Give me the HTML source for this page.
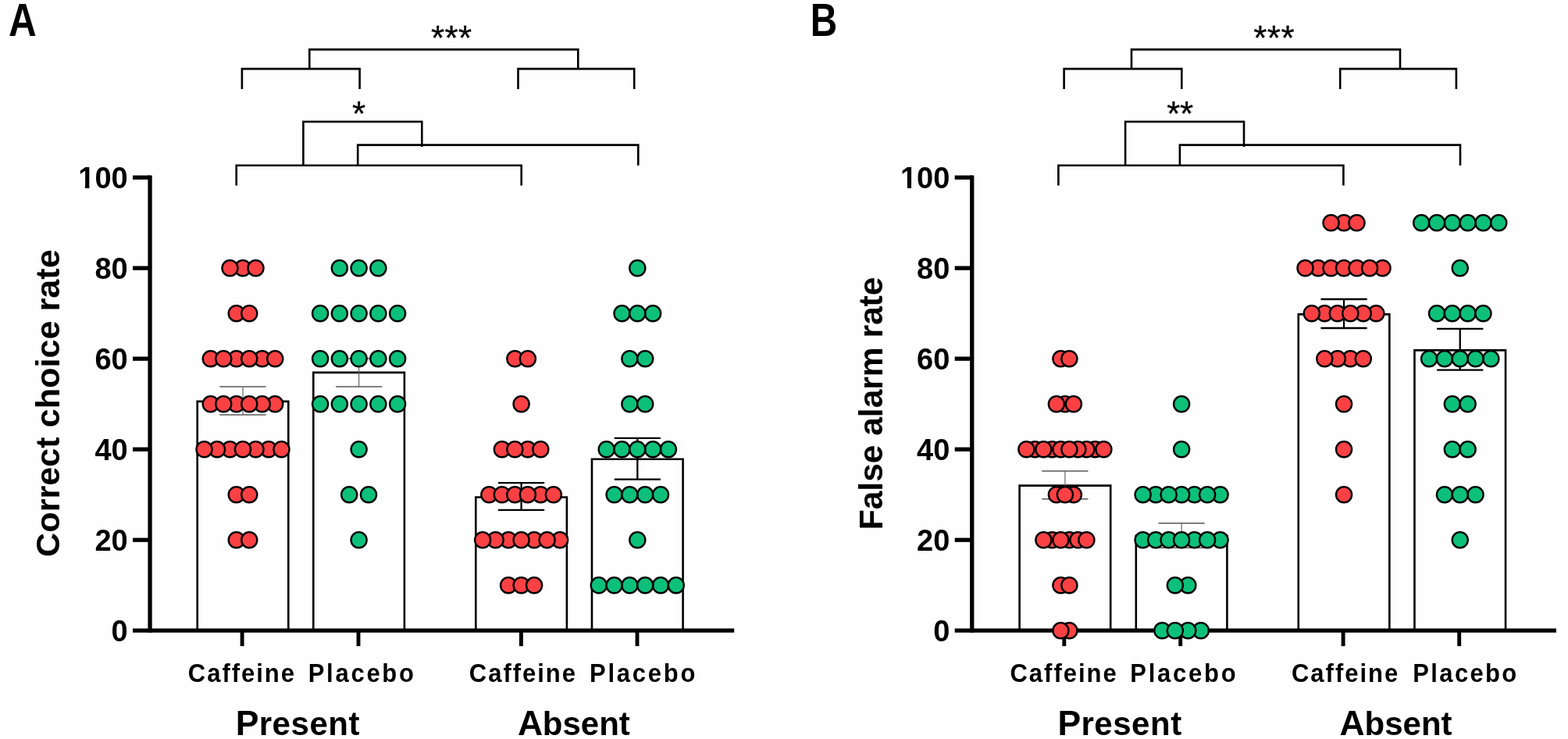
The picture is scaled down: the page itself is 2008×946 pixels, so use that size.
<!DOCTYPE html>
<html lang="en"><head><meta charset="utf-8"><title>Figure</title>
<style>
html,body{margin:0;padding:0;background:#fefefe;}
body{width:2008px;height:946px;overflow:hidden;}
svg{display:block;}
text{font-family:"Liberation Sans",sans-serif;fill:#000;}
.tk{font-weight:bold;font-size:38px;text-anchor:end;}
.xl{font-weight:bold;font-size:31px;text-anchor:middle;}
.gl{font-weight:bold;font-size:42px;}
.yt{font-weight:bold;font-size:43.2px;text-anchor:middle;}
.pl{font-weight:bold;font-size:60px;}
.st{font-size:44px;text-anchor:middle;stroke:#000;stroke-width:0.3;stroke-linejoin:round;letter-spacing:0.45px;}
.ax{stroke:#000;stroke-width:5.3;fill:none;stroke-linecap:butt;}
.bar{stroke:#000;stroke-width:2.6;fill:none;stroke-linejoin:miter;}
.br{stroke:#000;stroke-width:2.6;fill:none;stroke-linejoin:miter;}
.e1{stroke:#585858;stroke-width:1.5;fill:none;}
.e1v{stroke:#666;stroke-width:1.2;fill:none;}
.e2{stroke:#000;stroke-width:2.3;fill:none;}
.d{stroke:#000;stroke-width:2.4;}
</style></head><body>
<svg width="2008" height="946" viewBox="0 0 2008 946">
<rect x="0" y="0" width="2008" height="946" fill="#fefefe"/>
<g transform="translate(0,0)">
<text class="pl" transform="translate(10.9,46.3) scale(0.825,1)">A</text>
<path class="br" d="M309.9,113.9V88.1H460.6V113.9"/>
<path class="br" d="M663.5,113.9V88.1H812.2V113.9"/>
<path class="br" d="M396.3,88.1V63.4H740.3V88.1"/>
<path class="br" d="M388.4,211.7V155.8H540.3V188.1"/>
<path class="br" d="M458.2,211.7V185.6H817.3V211.7"/>
<path class="br" d="M302.7,237.4V211.8H667.7V237.4"/>
<text class="st" x="459.7" y="160.7">*</text>
<text class="st" x="578.3" y="64.3">***</text>
<path class="ax" d="M192.05,224.5V809.85"/>
<path class="ax" d="M170,807.2H940.2"/>
<text class="tk" x="163.7" y="820.8">0</text>
<path class="ax" d="M170,691.2H192"/>
<text class="tk" x="163.7" y="704.8">20</text>
<path class="ax" d="M170,575.2H192"/>
<text class="tk" x="163.7" y="588.8">40</text>
<path class="ax" d="M170,459.2H192"/>
<text class="tk" x="163.7" y="472.8">60</text>
<path class="ax" d="M170,343.2H192"/>
<text class="tk" x="163.7" y="356.8">80</text>
<path class="ax" d="M170,227.2H192"/>
<text class="tk" x="163.7" y="240.8">100</text>
<rect x="100.5" y="236.4" width="8.5" height="5.4" fill="#fefefe"/>
<rect x="114.4" y="236.4" width="8" height="5.4" fill="#fefefe"/>
<path class="ax" style="stroke-width:4.9" d="M310.1,808V827.1"/>
<path class="ax" style="stroke-width:4.9" d="M459,808V827.1"/>
<path class="ax" style="stroke-width:4.9" d="M667.4,808V827.1"/>
<path class="ax" style="stroke-width:4.9" d="M816,808V827.1"/>
<text class="yt" transform="translate(75.9,516.1) rotate(-90)">Correct choice rate</text>
<text class="xl" transform="translate(309.9,872.8) scale(1,1.07)" letter-spacing="2.0">Caffeine</text>
<text class="xl" transform="translate(463.68,872.8) scale(1,1.07)" letter-spacing="2.75">Placebo</text>
<text class="xl" transform="translate(669.9,872.8) scale(1,1.07)" letter-spacing="2.0">Caffeine</text>
<text class="xl" transform="translate(824.08,872.8) scale(1,1.07)" letter-spacing="2.75">Placebo</text>
<text class="gl" x="301.8" y="940.9"><tspan font-size="44.5">P</tspan><tspan dx="0.2" letter-spacing="0.55">resent</tspan></text>
<text class="gl" x="662.9" y="940.9"><tspan font-size="44.5">A</tspan><tspan dx="-0.2">bsent</tspan></text>
<path class="bar" d="M252.7,807.2V513.9H369.3V807.2"/>
<path class="bar" d="M401.3,807.2V476.9H517.9V807.2"/>
<path class="bar" d="M609.3,807.2V636.5H725.9V807.2"/>
<path class="bar" d="M758,807.2V587.8H874.6V807.2"/>
<path class="e1" d="M281.4,495H340.6M281.4,531H340.6"/>
<path class="e1v" d="M311,495V531"/>
<path class="e1" d="M430,459H489.2M430,495.1H489.2"/>
<path class="e1v" d="M459.6,459V495.1"/>
<path class="e2" d="M638,618.1H697.2M638,652.9H697.2"/>
<path class="e2" d="M667.6,618.1V652.9"/>
<path class="e2" d="M786.7,560.9H845.9M786.7,613.6H845.9"/>
<path class="e2" d="M816.3,560.9V613.6"/>
<g class="d" fill="#f94144">
<circle cx="311" cy="343.2" r="10.05"/>
<circle cx="294.5" cy="343.2" r="10.05"/>
<circle cx="327.5" cy="343.2" r="10.05"/>
<circle cx="302.75" cy="401.2" r="10.05"/>
<circle cx="319.25" cy="401.2" r="10.05"/>
<circle cx="269.75" cy="459.2" r="10.05"/>
<circle cx="302.75" cy="459.2" r="10.05"/>
<circle cx="335.75" cy="459.2" r="10.05"/>
<circle cx="286.25" cy="459.2" r="10.05"/>
<circle cx="319.25" cy="459.2" r="10.05"/>
<circle cx="352.25" cy="459.2" r="10.05"/>
<circle cx="269.75" cy="517.2" r="10.05"/>
<circle cx="302.75" cy="517.2" r="10.05"/>
<circle cx="352.25" cy="517.2" r="10.05"/>
<circle cx="335.75" cy="517.2" r="10.05"/>
<circle cx="286.25" cy="517.2" r="10.05"/>
<circle cx="319.25" cy="517.2" r="10.05"/>
<circle cx="294.5" cy="575.2" r="10.05"/>
<circle cx="344" cy="575.2" r="10.05"/>
<circle cx="278" cy="575.2" r="10.05"/>
<circle cx="327.5" cy="575.2" r="10.05"/>
<circle cx="261.5" cy="575.2" r="10.05"/>
<circle cx="311" cy="575.2" r="10.05"/>
<circle cx="360.5" cy="575.2" r="10.05"/>
<circle cx="302.75" cy="633.2" r="10.05"/>
<circle cx="319.25" cy="633.2" r="10.05"/>
<circle cx="302.75" cy="691.2" r="10.05"/>
<circle cx="319.25" cy="691.2" r="10.05"/>
</g>
<g class="d" fill="#0cc07a">
<circle cx="434.85" cy="343.2" r="10.05"/>
<circle cx="459.6" cy="343.2" r="10.05"/>
<circle cx="484.35" cy="343.2" r="10.05"/>
<circle cx="410.1" cy="401.2" r="10.05"/>
<circle cx="434.85" cy="401.2" r="10.05"/>
<circle cx="459.6" cy="401.2" r="10.05"/>
<circle cx="484.35" cy="401.2" r="10.05"/>
<circle cx="509.1" cy="401.2" r="10.05"/>
<circle cx="410.1" cy="459.2" r="10.05"/>
<circle cx="434.85" cy="459.2" r="10.05"/>
<circle cx="459.6" cy="459.2" r="10.05"/>
<circle cx="484.35" cy="459.2" r="10.05"/>
<circle cx="509.1" cy="459.2" r="10.05"/>
<circle cx="410.1" cy="517.2" r="10.05"/>
<circle cx="434.85" cy="517.2" r="10.05"/>
<circle cx="459.6" cy="517.2" r="10.05"/>
<circle cx="484.35" cy="517.2" r="10.05"/>
<circle cx="509.1" cy="517.2" r="10.05"/>
<circle cx="459.6" cy="575.2" r="10.05"/>
<circle cx="447.23" cy="633.2" r="10.05"/>
<circle cx="471.98" cy="633.2" r="10.05"/>
<circle cx="459.6" cy="691.2" r="10.05"/>
</g>
<g class="d" fill="#f94144">
<circle cx="659.35" cy="459.2" r="10.05"/>
<circle cx="675.85" cy="459.2" r="10.05"/>
<circle cx="667.6" cy="517.2" r="10.05"/>
<circle cx="642.85" cy="575.2" r="10.05"/>
<circle cx="675.85" cy="575.2" r="10.05"/>
<circle cx="659.35" cy="575.2" r="10.05"/>
<circle cx="692.35" cy="575.2" r="10.05"/>
<circle cx="626.35" cy="633.2" r="10.05"/>
<circle cx="692.35" cy="633.2" r="10.05"/>
<circle cx="642.85" cy="633.2" r="10.05"/>
<circle cx="659.35" cy="633.2" r="10.05"/>
<circle cx="675.85" cy="633.2" r="10.05"/>
<circle cx="708.85" cy="633.2" r="10.05"/>
<circle cx="651.1" cy="691.2" r="10.05"/>
<circle cx="684.1" cy="691.2" r="10.05"/>
<circle cx="717.1" cy="691.2" r="10.05"/>
<circle cx="634.6" cy="691.2" r="10.05"/>
<circle cx="618.1" cy="691.2" r="10.05"/>
<circle cx="667.6" cy="691.2" r="10.05"/>
<circle cx="700.6" cy="691.2" r="10.05"/>
<circle cx="651.1" cy="749.2" r="10.05"/>
<circle cx="667.6" cy="749.2" r="10.05"/>
<circle cx="684.1" cy="749.2" r="10.05"/>
</g>
<g class="d" fill="#0cc07a">
<circle cx="816.3" cy="343.2" r="10.05"/>
<circle cx="796.5" cy="401.2" r="10.05"/>
<circle cx="836.1" cy="401.2" r="10.05"/>
<circle cx="816.3" cy="401.2" r="10.05"/>
<circle cx="806.4" cy="459.2" r="10.05"/>
<circle cx="826.2" cy="459.2" r="10.05"/>
<circle cx="806.4" cy="517.2" r="10.05"/>
<circle cx="826.2" cy="517.2" r="10.05"/>
<circle cx="776.7" cy="575.2" r="10.05"/>
<circle cx="855.9" cy="575.2" r="10.05"/>
<circle cx="796.5" cy="575.2" r="10.05"/>
<circle cx="836.1" cy="575.2" r="10.05"/>
<circle cx="816.3" cy="575.2" r="10.05"/>
<circle cx="786.6" cy="633.2" r="10.05"/>
<circle cx="826.2" cy="633.2" r="10.05"/>
<circle cx="806.4" cy="633.2" r="10.05"/>
<circle cx="846" cy="633.2" r="10.05"/>
<circle cx="816.3" cy="691.2" r="10.05"/>
<circle cx="766.8" cy="749.2" r="10.05"/>
<circle cx="806.4" cy="749.2" r="10.05"/>
<circle cx="846" cy="749.2" r="10.05"/>
<circle cx="786.6" cy="749.2" r="10.05"/>
<circle cx="826.2" cy="749.2" r="10.05"/>
<circle cx="865.8" cy="749.2" r="10.05"/>
</g>
</g>
<g transform="translate(1052.7,0)">
<text class="pl" transform="translate(-14.9,46.3) scale(0.795,1)">B</text>
<path class="br" d="M309.9,113.9V88.1H460.6V113.9"/>
<path class="br" d="M663.5,113.9V88.1H812.2V113.9"/>
<path class="br" d="M396.3,88.1V63.4H740.3V88.1"/>
<path class="br" d="M388.4,211.7V155.8H540.3V188.1"/>
<path class="br" d="M458.2,211.7V185.6H817.3V211.7"/>
<path class="br" d="M302.7,237.4V211.8H667.7V237.4"/>
<text class="st" x="458.3" y="160.7" style="letter-spacing:-0.3px">**</text>
<text class="st" x="578.9" y="64.3">***</text>
<path class="ax" d="M192.05,224.5V809.85"/>
<path class="ax" d="M170,807.2H940.2"/>
<text class="tk" x="163.7" y="820.8">0</text>
<path class="ax" d="M170,691.2H192"/>
<text class="tk" x="163.7" y="704.8">20</text>
<path class="ax" d="M170,575.2H192"/>
<text class="tk" x="163.7" y="588.8">40</text>
<path class="ax" d="M170,459.2H192"/>
<text class="tk" x="163.7" y="472.8">60</text>
<path class="ax" d="M170,343.2H192"/>
<text class="tk" x="163.7" y="356.8">80</text>
<path class="ax" d="M170,227.2H192"/>
<text class="tk" x="163.7" y="240.8">100</text>
<rect x="100.5" y="236.4" width="8.8" height="5.4" fill="#fefefe"/>
<rect x="114.3" y="236.4" width="8" height="5.4" fill="#fefefe"/>
<path class="ax" style="stroke-width:4.9" d="M310.1,808V827.1"/>
<path class="ax" style="stroke-width:4.9" d="M459,808V827.1"/>
<path class="ax" style="stroke-width:4.9" d="M667.4,808V827.1"/>
<path class="ax" style="stroke-width:4.9" d="M816,808V827.1"/>
<text class="yt" style="font-size:42.5px" transform="translate(77.6,516.45) rotate(-90)">False alarm rate</text>
<text class="xl" transform="translate(309.9,872.8) scale(1,1.07)" letter-spacing="2.0">Caffeine</text>
<text class="xl" transform="translate(463.68,872.8) scale(1,1.07)" letter-spacing="2.75">Placebo</text>
<text class="xl" transform="translate(670.4,872.8) scale(1,1.07)" letter-spacing="2.0">Caffeine</text>
<text class="xl" transform="translate(824.27,872.8) scale(1,1.07)" letter-spacing="2.35">Placebo</text>
<text class="gl" x="301.8" y="940.9"><tspan font-size="44.5">P</tspan><tspan dx="0.2" letter-spacing="0.55">resent</tspan></text>
<text class="gl" x="662.9" y="940.9"><tspan font-size="44.5">A</tspan><tspan dx="-0.2">bsent</tspan></text>
<path class="bar" d="M252.9,807.2V621.6H369.5V807.2"/>
<path class="bar" d="M402.1,807.2V685.7H518.7V807.2"/>
<path class="bar" d="M610.05,807.2V402.4H726.65V807.2"/>
<path class="bar" d="M758.75,807.2V448.4H875.35V807.2"/>
<path class="e1" d="M281.6,603H340.8M281.6,638.7H340.8"/>
<path class="e1v" d="M311.2,603V638.7"/>
<path class="e1" d="M430.8,669.8H490M430.8,701.3H490"/>
<path class="e1v" d="M460.4,669.8V701.3"/>
<path class="e2" d="M638.75,383H697.95M638.75,420H697.95"/>
<path class="e2" d="M668.35,383V420"/>
<path class="e2" d="M787.45,420.8H846.65M787.45,473.7H846.65"/>
<path class="e2" d="M817.05,420.8V473.7"/>
<g class="d" fill="#f94144">
<circle cx="305.7" cy="459.2" r="10.05"/>
<circle cx="316.7" cy="459.2" r="10.05"/>
<circle cx="311.2" cy="517.2" r="10.05"/>
<circle cx="300.2" cy="517.2" r="10.05"/>
<circle cx="322.2" cy="517.2" r="10.05"/>
<circle cx="272.7" cy="575.2" r="10.05"/>
<circle cx="294.7" cy="575.2" r="10.05"/>
<circle cx="349.7" cy="575.2" r="10.05"/>
<circle cx="305.7" cy="575.2" r="10.05"/>
<circle cx="338.7" cy="575.2" r="10.05"/>
<circle cx="261.7" cy="575.2" r="10.05"/>
<circle cx="283.7" cy="575.2" r="10.05"/>
<circle cx="327.7" cy="575.2" r="10.05"/>
<circle cx="360.7" cy="575.2" r="10.05"/>
<circle cx="316.7" cy="575.2" r="10.05"/>
<circle cx="300.2" cy="633.2" r="10.05"/>
<circle cx="322.2" cy="633.2" r="10.05"/>
<circle cx="311.2" cy="633.2" r="10.05"/>
<circle cx="294.7" cy="691.2" r="10.05"/>
<circle cx="316.7" cy="691.2" r="10.05"/>
<circle cx="283.7" cy="691.2" r="10.05"/>
<circle cx="305.7" cy="691.2" r="10.05"/>
<circle cx="327.7" cy="691.2" r="10.05"/>
<circle cx="338.7" cy="691.2" r="10.05"/>
<circle cx="305.7" cy="749.2" r="10.05"/>
<circle cx="316.7" cy="749.2" r="10.05"/>
<circle cx="316.7" cy="807.2" r="10.05"/>
<circle cx="305.7" cy="807.2" r="10.05"/>
</g>
<g class="d" fill="#0cc07a">
<circle cx="460.4" cy="517.2" r="10.05"/>
<circle cx="460.4" cy="575.2" r="10.05"/>
<circle cx="427.4" cy="633.2" r="10.05"/>
<circle cx="476.9" cy="633.2" r="10.05"/>
<circle cx="509.9" cy="633.2" r="10.05"/>
<circle cx="460.4" cy="633.2" r="10.05"/>
<circle cx="410.9" cy="633.2" r="10.05"/>
<circle cx="443.9" cy="633.2" r="10.05"/>
<circle cx="493.4" cy="633.2" r="10.05"/>
<circle cx="410.9" cy="691.2" r="10.05"/>
<circle cx="476.9" cy="691.2" r="10.05"/>
<circle cx="509.9" cy="691.2" r="10.05"/>
<circle cx="427.4" cy="691.2" r="10.05"/>
<circle cx="443.9" cy="691.2" r="10.05"/>
<circle cx="460.4" cy="691.2" r="10.05"/>
<circle cx="493.4" cy="691.2" r="10.05"/>
<circle cx="468.65" cy="749.2" r="10.05"/>
<circle cx="452.15" cy="749.2" r="10.05"/>
<circle cx="435.65" cy="807.2" r="10.05"/>
<circle cx="485.15" cy="807.2" r="10.05"/>
<circle cx="468.65" cy="807.2" r="10.05"/>
<circle cx="452.15" cy="807.2" r="10.05"/>
</g>
<g class="d" fill="#f94144">
<circle cx="668.35" cy="285.2" r="10.05"/>
<circle cx="651.85" cy="285.2" r="10.05"/>
<circle cx="684.85" cy="285.2" r="10.05"/>
<circle cx="635.35" cy="343.2" r="10.05"/>
<circle cx="717.85" cy="343.2" r="10.05"/>
<circle cx="618.85" cy="343.2" r="10.05"/>
<circle cx="651.85" cy="343.2" r="10.05"/>
<circle cx="668.35" cy="343.2" r="10.05"/>
<circle cx="684.85" cy="343.2" r="10.05"/>
<circle cx="701.35" cy="343.2" r="10.05"/>
<circle cx="643.6" cy="401.2" r="10.05"/>
<circle cx="709.6" cy="401.2" r="10.05"/>
<circle cx="627.1" cy="401.2" r="10.05"/>
<circle cx="660.1" cy="401.2" r="10.05"/>
<circle cx="693.1" cy="401.2" r="10.05"/>
<circle cx="676.6" cy="401.2" r="10.05"/>
<circle cx="676.6" cy="459.2" r="10.05"/>
<circle cx="660.1" cy="459.2" r="10.05"/>
<circle cx="643.6" cy="459.2" r="10.05"/>
<circle cx="693.1" cy="459.2" r="10.05"/>
<circle cx="668.35" cy="517.2" r="10.05"/>
<circle cx="668.35" cy="575.2" r="10.05"/>
<circle cx="668.35" cy="633.2" r="10.05"/>
</g>
<g class="d" fill="#0cc07a">
<circle cx="767.55" cy="285.2" r="10.05"/>
<circle cx="807.15" cy="285.2" r="10.05"/>
<circle cx="846.75" cy="285.2" r="10.05"/>
<circle cx="787.35" cy="285.2" r="10.05"/>
<circle cx="826.95" cy="285.2" r="10.05"/>
<circle cx="866.55" cy="285.2" r="10.05"/>
<circle cx="817.05" cy="343.2" r="10.05"/>
<circle cx="787.35" cy="401.2" r="10.05"/>
<circle cx="826.95" cy="401.2" r="10.05"/>
<circle cx="807.15" cy="401.2" r="10.05"/>
<circle cx="846.75" cy="401.2" r="10.05"/>
<circle cx="777.45" cy="459.2" r="10.05"/>
<circle cx="856.65" cy="459.2" r="10.05"/>
<circle cx="797.25" cy="459.2" r="10.05"/>
<circle cx="836.85" cy="459.2" r="10.05"/>
<circle cx="817.05" cy="459.2" r="10.05"/>
<circle cx="807.15" cy="517.2" r="10.05"/>
<circle cx="826.95" cy="517.2" r="10.05"/>
<circle cx="807.15" cy="575.2" r="10.05"/>
<circle cx="826.95" cy="575.2" r="10.05"/>
<circle cx="797.25" cy="633.2" r="10.05"/>
<circle cx="836.85" cy="633.2" r="10.05"/>
<circle cx="817.05" cy="633.2" r="10.05"/>
<circle cx="817.05" cy="691.2" r="10.05"/>
</g>
</g>
</svg>
</body></html>
